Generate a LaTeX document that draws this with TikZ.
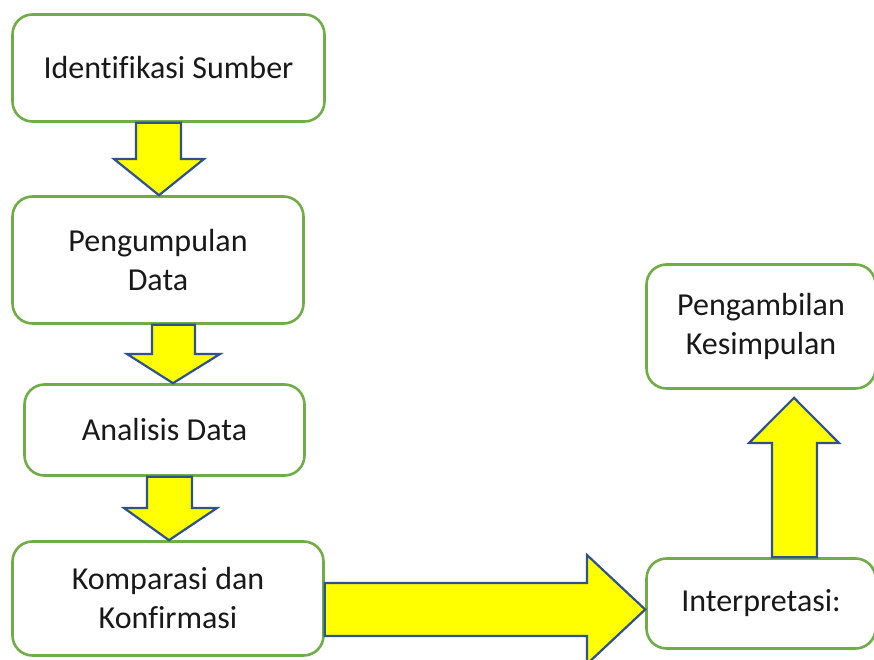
\documentclass[tikz,border=0pt]{standalone}
\usepackage{fontspec}
\setmainfont[Ligatures=NoCommon]{Carlito}
\usetikzlibrary{calc}
\definecolor{boxgreen}{HTML}{70AD47}
\definecolor{arrowblue}{HTML}{2F528F}
\definecolor{arrowyellow}{HTML}{FFFF00}
\begin{document}
\begin{tikzpicture}[x=1pt,y=-1pt,
  box/.style={draw=boxgreen, line width=2.6pt, rounded corners=20pt, fill=white,
    align=center, inner sep=0pt, font=\fontsize{32}{39}\selectfont, text=black!90},
  blockarrow/.style={draw=arrowblue, line width=2.2pt, fill=arrowyellow, line join=miter}]
\useasboundingbox (0,0) rectangle (874,660);
% boxes
\node[box, minimum width=312pt, minimum height=107pt] (b1) at (168.5,68) {Identifikasi Sumber};
\node[box, minimum width=291pt, minimum height=127pt] (b2) at (158,260) {Pengumpulan\\Data};
\node[box, minimum width=280pt, minimum height=91pt] (b3) at (164.5,430) {Analisis Data};
\node[box, minimum width=311pt, minimum height=114pt] (b4) at (168,598.5) {Komparasi dan\\Konfirmasi};
\node[box, minimum width=229pt, minimum height=90pt] (b5) at (761,603.5) {Interpretasi:};
\node[box, minimum width=229pt, minimum height=124pt] (b6) at (761,326.5) {Pengambilan\\Kesimpulan};
% block arrows
\draw[blockarrow] (136,0 |- b1.south) -- (181,0 |- b1.south) -- (181,159) -- (204,159)
  -- (159,0 |- b2.north) -- (114,159) -- (136,159) -- cycle;
\draw[blockarrow] (152,0 |- b2.south) -- (195,0 |- b2.south) -- (195,354) -- (220,354)
  -- (173,0 |- b3.north) -- (127,354) -- (152,354) -- cycle;
\draw[blockarrow] (147,0 |- b3.south) -- (192,0 |- b3.south) -- (192,508) -- (217,508)
  -- (169,0 |- b4.north) -- (124,508) -- (147,508) -- cycle;
\draw[blockarrow] (b4.east |- 0,583) -- (587,583) -- (587,555)
  -- (b5.west |- 0,609.5) -- (587,664) -- (587,636) -- (b4.east |- 0,636) -- cycle;
\draw[blockarrow] (772,0 |- b5.north) -- (772,443) -- (749,443)
  -- ($(794,0 |- b6.south)+(0,8)$) -- (839,443) -- (817,443) -- (817,0 |- b5.north) -- cycle;
\end{tikzpicture}
\end{document}
